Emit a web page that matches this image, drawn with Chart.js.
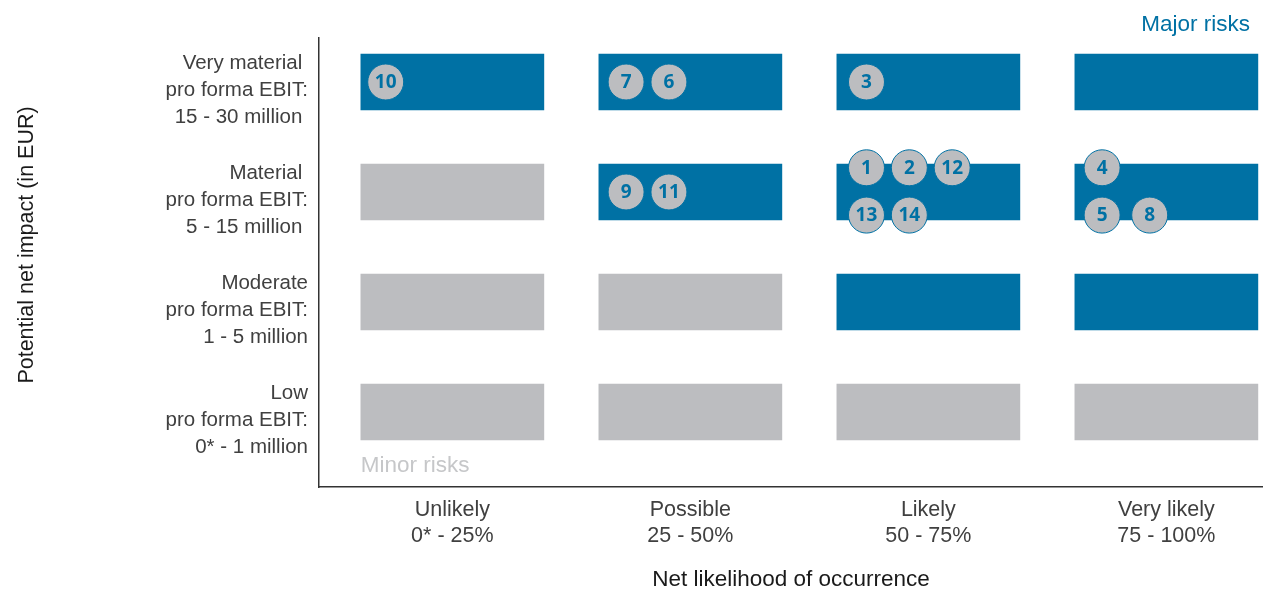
<!DOCTYPE html>
<html><head><meta charset="utf-8">
<script src="https://cdn.jsdelivr.net/npm/chart.js@4.4.0/dist/chart.umd.min.js"></script>
<style>html,body{margin:0;padding:0;background:#fff;} #wrap{width:1263px;height:589px;position:relative;}</style>
</head><body><div id="wrap"><canvas id="c"></canvas></div>
<script>
// ---- data ----
const likelihoodLabels = [["Unlikely","0* - 25%"],["Possible","25 - 50%"],["Likely","50 - 75%"],["Very likely","75 - 100%"]];
const impactLabels = [["Low","pro forma EBIT:","0* - 1 million"],["Moderate","pro forma EBIT:","1 - 5 million"],["Material ","pro forma EBIT:","5 - 15 million "],["Very material ","pro forma EBIT:","15 - 30 million "]];
// 1 = major risk cell (blue), 0 = minor (grey); columns Unlikely..Very likely
const majorLow = [0,0,0,0];
const majorModerate = [0,0,1,1];
const majorMaterial = [0,1,1,1];
const majorVeryMaterial = [1,1,1,1];
const riskIds = [10,7,6,3,9,11,1,2,12,13,14,4,5,8];
const riskLikelihood = [0.22,1.23,1.41,2.24,1.23,1.41,2.24,2.42,2.60,2.24,2.42,3.23,3.23,3.43];
const riskImpact = [3.5,3.5,3.5,3.5,2.5,2.5,2.72,2.72,2.72,2.29,2.29,2.72,2.29,2.29];

// ---- styling ----
const BLUE = '#0071A4';
const GREY = '#BCBDC0';
const FONT = '"Liberation Sans", Arial, sans-serif';
const rows = [majorLow, majorModerate, majorMaterial, majorVeryMaterial];
const cells = [], cellColors = [];
rows.forEach((row, r) => row.forEach((m, c) => {
  cells.push({y: r + 0.5, x: [c + 0.5 - 0.3845, c + 0.5 + 0.3845]});
  cellColors.push(m ? BLUE : GREY);
}));
const risks = riskIds.map((id, i) => ({x: riskLikelihood[i], y: riskImpact[i]}));

const annot = {
  id: 'annot',
  afterDatasetsDraw(chart) {
    const ctx = chart.ctx;
    const meta = chart.getDatasetMeta(1);
    ctx.save();
    ctx.font = 'bold 19px "Open Sans", sans-serif';
    ctx.fillStyle = BLUE;
    ctx.textAlign = 'center';
    ctx.textBaseline = 'middle';
    meta.data.forEach((p, i) => ctx.fillText(String(riskIds[i]), p.x, p.y + 1));
    ctx.restore();
  },
  afterDraw(chart) {
    const ctx = chart.ctx;
    const a = chart.chartArea;
    ctx.save();
    ctx.font = '22.5px ' + FONT;
    ctx.fillStyle = BLUE;
    ctx.textAlign = 'right';
    ctx.textBaseline = 'alphabetic';
    ctx.fillText('Major risks', 1250, 31);
    ctx.fillStyle = '#C6C7C9';
    ctx.textAlign = 'left';
    ctx.font = '22.5px ' + FONT;
    ctx.fillText('Minor risks', chart.scales.x.getPixelForValue(0.1155), 472);
    ctx.fillStyle = '#1a1a1a';
    ctx.font = '22.5px ' + FONT;
    ctx.textAlign = 'center';
    ctx.fillText('Net likelihood of occurrence', (a.left + a.right) / 2, 586);
    ctx.font = '21.5px ' + FONT;
    ctx.translate(27, 245);
    ctx.rotate(-Math.PI / 2);
    ctx.textBaseline = 'middle';
    ctx.fillText('Potential net impact (in EUR)', 0, 0);
    ctx.restore();
  }
};

new Chart(document.getElementById('c'), {
  type: 'bar',
  data: {
    datasets: [
      {type: 'bar', indexAxis: 'y', data: cells, backgroundColor: cellColors, borderWidth: 0, barThickness: 56, order: 2},
      {type: 'scatter', data: risks, pointRadius: 18, pointHoverRadius: 18, backgroundColor: GREY, borderColor: BLUE, borderWidth: 1, order: 1}
    ]
  },
  options: {
    responsive: true, maintainAspectRatio: false, animation: false,
    layout: {autoPadding: false, padding: {top: 38, left: 0, right: 0, bottom: 0}},
    plugins: {legend: {display: false}, tooltip: {enabled: false}},
    scales: {
      x: {
        type: 'linear', min: -0.0603, max: 3.906, offset: false,
        afterBuildTicks: s => { s.ticks = [0.5, 1.5, 2.5, 3.5].map(v => ({value: v})); },
        afterFit: s => { s.height = 102; s.paddingLeft = 0; s.paddingRight = 0; },
        ticks: {callback: (v, i) => likelihoodLabels[i], font: {size: 21.5, family: FONT, lineHeight: 26/21.5}, color: '#404040', padding: 10, maxRotation: 0, autoSkip: false},
        grid: {display: false, drawTicks: false, offset: false},
        border: {display: true, color: '#333', width: 1.5}
      },
      y: {
        type: 'linear', min: -0.182, max: 3.9, offset: false,
        afterBuildTicks: s => { s.ticks = [0.5, 1.5, 2.5, 3.5].map(v => ({value: v})); },
        afterFit: s => { s.width = 319; s.paddingTop = 0; s.paddingBottom = 0; },
        ticks: {callback: (v, i) => impactLabels[i], font: {size: 20.5, family: FONT, lineHeight: 27/20.5}, color: '#404040', padding: 11, labelOffset: 8, autoSkip: false},
        grid: {display: false, drawTicks: false, offset: false},
        border: {display: true, color: '#333', width: 1.5}
      }
    }
  },
  plugins: [annot]
});
</script></body></html>
